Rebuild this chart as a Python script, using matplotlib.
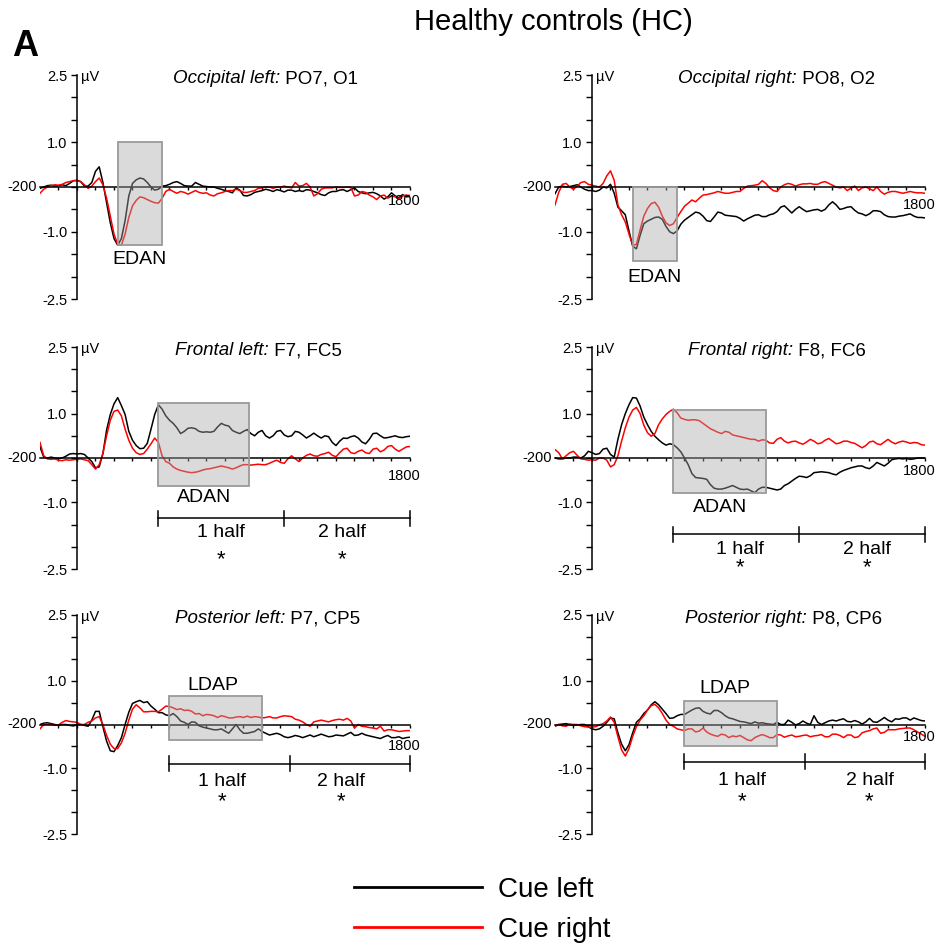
import numpy as np
import matplotlib
matplotlib.use("Agg")
import matplotlib.pyplot as plt
from matplotlib.patches import Rectangle

plt.rcParams["font.family"] = ["Liberation Sans", "DejaVu Sans"]
plt.rcParams["axes.unicode_minus"] = False

W, H = 937, 946

# sampling grid of the averaged ERPs (ms)
times = list(range(-200, 1801, 20))

region_names = ["Occipital left:", "Occipital right:", "Frontal left:",
                "Frontal right:", "Posterior left:", "Posterior right:"]
electrodes = ["PO7, O1", "PO8, O2", "F7, FC5", "F8, FC6", "P7, CP5", "P8, CP6"]
component_names = ["EDAN", "EDAN", "ADAN", "ADAN", "LDAP", "LDAP"]
window_ms = [(220, 460), (220, 460), (440, 930), (440, 940), (500, 1000), (500, 1000)]
window_uv = [(-1.3, 1.0), (-1.66, 0.0), (-0.62, 1.24), (-0.78, 1.08), (-0.36, 0.64), (-0.48, 0.54)]
half_bounds = [None, None, (440, 1120, 1800), (440, 1120, 1800), (500, 1150, 1800), (500, 1150, 1800)]
half_labels = ["1 half", "2 half"]
legend_labels = ["Cue left", "Cue right"]

# µV, one value per 20 ms from -200 to 1800
occ_left_cue_left = [
    -0.03, 0.0, 0.03, 0.04, 0.02, 0.03, 0.05, 0.03, 0.08, 0.14,
    0.15, 0.12, 0.02, 0.02, 0.1, 0.35, 0.45, 0.1, -0.35, -0.8,
    -1.15, -1.3, -1.15, -0.75, -0.2, 0.08, 0.16, 0.2, 0.18, 0.1,
    0.0, -0.07, -0.05, 0.02, 0.03, 0.06, 0.1, 0.12, 0.08, 0.03,
    0.02, 0.02, 0.1, 0.06, 0.02, 0.01, 0.0, 0.0, -0.03, -0.05,
    -0.08, -0.1, -0.13, -0.02, -0.07, -0.19, -0.2, -0.17, -0.12, -0.1,
    -0.08, -0.05, -0.07, -0.1, -0.06, -0.08, -0.11, -0.07, -0.07, -0.1,
    -0.08, -0.1, -0.06, -0.07, -0.1, -0.13, -0.17, -0.19, -0.13, -0.1,
    -0.1, -0.07, -0.06, -0.1, -0.06, -0.02, -0.1, -0.13, -0.15, -0.13,
    -0.12, -0.15, -0.2, -0.27, -0.22, -0.13, -0.2, -0.24, -0.17, -0.22,
    -0.21]
occ_left_cue_right = [
    -0.14, -0.05, 0.0, 0.03, 0.05, 0.04, 0.06, 0.1, 0.12, 0.14,
    0.14, 0.12, 0.05, -0.03, 0.02, 0.12, 0.2, 0.05, -0.25, -0.65,
    -1.05, -1.28, -1.3, -1.05, -0.68, -0.42, -0.3, -0.22, -0.24, -0.28,
    -0.32, -0.35, -0.36, -0.25, -0.1, -0.05, -0.1, -0.14, -0.1, -0.12,
    -0.16, -0.12, -0.08, -0.12, -0.14, -0.13, -0.18, -0.2, -0.15, -0.13,
    -0.1, -0.08, -0.08, -0.05, -0.08, -0.12, -0.12, -0.1, -0.08, -0.03,
    -0.02, 0.0, 0.0, -0.03, 0.0, 0.0, 0.02, 0.0, -0.02, 0.1,
    0.02, 0.03, 0.08, 0.0, -0.2, -0.15, -0.05, -0.02, -0.02, -0.02,
    0.0, -0.01, -0.01, 0.0, -0.01, -0.2, -0.18, -0.1, -0.12, -0.18,
    -0.22, -0.28, -0.2, -0.18, -0.25, -0.2, -0.22, -0.26, -0.2, -0.18,
    -0.19]
occ_right_cue_left = [
    -0.15, 0.0, 0.02, 0.0, 0.01, 0.03, 0.05, 0.0, -0.05, -0.08,
    -0.08, -0.1, -0.07, 0.0, -0.02, 0.06, -0.14, -0.45, -0.53, -0.62,
    -0.98, -1.32, -1.38, -1.08, -0.82, -0.76, -0.72, -0.68, -0.67, -0.72,
    -0.88, -1.0, -1.04, -0.98, -0.83, -0.74, -0.68, -0.62, -0.56, -0.58,
    -0.65, -0.75, -0.77, -0.67, -0.56, -0.58, -0.63, -0.64, -0.65, -0.66,
    -0.7, -0.76, -0.71, -0.67, -0.63, -0.62, -0.66, -0.66, -0.62, -0.6,
    -0.55, -0.45, -0.42, -0.5, -0.58, -0.5, -0.44, -0.5, -0.55, -0.53,
    -0.51, -0.5, -0.54, -0.5, -0.4, -0.33, -0.4, -0.5, -0.48, -0.45,
    -0.44, -0.52, -0.58, -0.6, -0.64, -0.6, -0.53, -0.53, -0.55, -0.62,
    -0.66, -0.67, -0.67, -0.65, -0.64, -0.62, -0.6, -0.65, -0.68, -0.68,
    -0.69]
occ_right_cue_right = [
    -0.4, -0.12, 0.06, 0.08, 0.0, -0.05, 0.02, 0.1, 0.12, 0.06,
    0.04, 0.02, 0.0, 0.08, 0.25, 0.36, 0.15, -0.4, -0.62, -0.78,
    -1.05, -1.3, -1.28, -0.96, -0.65, -0.48, -0.37, -0.34, -0.45, -0.65,
    -0.8, -0.86, -0.82, -0.68, -0.55, -0.43, -0.36, -0.29, -0.33, -0.25,
    -0.18, -0.17, -0.15, -0.13, -0.1, -0.12, -0.14, -0.14, -0.12, -0.1,
    -0.1, -0.03, 0.02, 0.03, 0.04, 0.06, 0.14, 0.08, -0.02, -0.08,
    -0.1, 0.0, 0.05, 0.08, 0.06, 0.02, 0.05, 0.07, 0.07, 0.08,
    0.06, 0.06, 0.1, 0.12, 0.08, 0.04, 0.0, -0.02, 0.0, -0.08,
    -0.02, 0.02, -0.08, -0.02, 0.0, -0.04, -0.08, 0.0, -0.1, -0.16,
    -0.12, -0.1, -0.1, -0.12, -0.14, -0.12, -0.1, -0.12, -0.13, -0.13,
    -0.14]
front_left_cue_left = [
    0.25, 0.02, 0.0, 0.02, 0.0, -0.01, 0.0, 0.04, 0.09, 0.1,
    0.09, 0.1, 0.08, 0.0, -0.08, -0.22, -0.2, 0.1, 0.63, 0.98,
    1.22, 1.36, 1.18, 0.98, 0.6, 0.4, 0.28, 0.21, 0.22, 0.33,
    0.65, 0.98, 1.2, 1.1, 0.95, 0.85, 0.78, 0.68, 0.55, 0.6,
    0.67, 0.68, 0.66, 0.6, 0.58, 0.59, 0.58, 0.6, 0.7, 0.78,
    0.74, 0.72, 0.62, 0.58, 0.55, 0.6, 0.64, 0.55, 0.5, 0.58,
    0.62, 0.5, 0.45, 0.5, 0.6, 0.62, 0.52, 0.48, 0.5, 0.6,
    0.58, 0.52, 0.45, 0.5, 0.56, 0.5, 0.45, 0.5, 0.48, 0.35,
    0.28, 0.38, 0.45, 0.44, 0.48, 0.5, 0.45, 0.36, 0.32, 0.42,
    0.55, 0.56, 0.5, 0.45, 0.46, 0.48, 0.5, 0.47, 0.46, 0.48,
    0.49]
front_left_cue_right = [
    0.35, 0.05, -0.02, -0.03, -0.02, -0.05, -0.06, -0.04, -0.05, -0.04,
    -0.03, -0.02, -0.04, -0.06, -0.15, -0.25, -0.15, 0.1, 0.5, 0.85,
    1.05, 1.08, 0.95, 0.65, 0.4, 0.22, 0.12, 0.08, 0.1, 0.2,
    0.32, 0.45, 0.35, 0.05, -0.08, -0.12, -0.2, -0.25, -0.28, -0.3,
    -0.32, -0.33, -0.32, -0.3, -0.27, -0.25, -0.24, -0.22, -0.2, -0.18,
    -0.2, -0.22, -0.25, -0.22, -0.18, -0.15, -0.15, -0.16, -0.15, -0.14,
    -0.15, -0.15, -0.12, -0.08, -0.05, -0.1, -0.12, -0.02, 0.05, -0.02,
    -0.08, 0.0, 0.06, 0.09, 0.05, 0.04, 0.08, 0.1, 0.13, 0.06,
    0.03, 0.12, 0.2, 0.22, 0.12, 0.1, 0.15, 0.18, 0.12, 0.1,
    0.2, 0.22, 0.14, 0.18, 0.26, 0.28, 0.2, 0.15, 0.2, 0.25,
    0.26]
front_right_cue_left = [
    0.0, -0.02, -0.02, 0.0, 0.0, 0.02, 0.02, 0.0, 0.05, 0.15,
    0.12, 0.08, 0.1, 0.2, 0.22, 0.08, 0.02, 0.42, 0.75, 1.0,
    1.2, 1.36, 1.35, 1.17, 0.92, 0.75, 0.6, 0.49, 0.41, 0.34,
    0.29, 0.32, 0.3, 0.23, 0.14, 0.0, -0.15, -0.35, -0.44, -0.45,
    -0.46, -0.48, -0.6, -0.68, -0.7, -0.7, -0.68, -0.65, -0.62, -0.66,
    -0.7, -0.71, -0.7, -0.74, -0.78, -0.7, -0.66, -0.66, -0.68, -0.7,
    -0.72, -0.7, -0.62, -0.58, -0.52, -0.46, -0.41, -0.42, -0.44, -0.4,
    -0.33, -0.32, -0.31, -0.32, -0.33, -0.36, -0.38, -0.32, -0.28, -0.25,
    -0.22, -0.2, -0.18, -0.18, -0.22, -0.24, -0.18, -0.1, -0.14, -0.18,
    -0.12, -0.04, -0.02, -0.01, -0.02, -0.01, -0.03, -0.02, 0.0, 0.0,
    0.0]
front_right_cue_right = [
    0.19, 0.12, -0.02, 0.05, 0.12, 0.15, 0.06, -0.02, -0.03, -0.05,
    -0.04, -0.05, 0.0, 0.0, -0.05, -0.2, -0.15, 0.05, 0.38, 0.68,
    0.92, 1.08, 1.14, 1.0, 0.74, 0.57, 0.49, 0.55, 0.75, 0.88,
    0.98, 1.05, 1.1, 1.02, 0.9, 0.87, 0.85, 0.86, 0.86, 0.84,
    0.78, 0.72, 0.66, 0.62, 0.58, 0.55, 0.6, 0.58, 0.52, 0.5,
    0.48, 0.46, 0.44, 0.42, 0.42, 0.38, 0.41, 0.4, 0.34, 0.33,
    0.42, 0.46, 0.38, 0.34, 0.37, 0.38, 0.34, 0.31, 0.36, 0.42,
    0.38, 0.32, 0.34, 0.4, 0.44, 0.38, 0.32, 0.34, 0.38, 0.38,
    0.35, 0.33, 0.28, 0.23, 0.28, 0.36, 0.38, 0.32, 0.3, 0.36,
    0.42, 0.36, 0.32, 0.36, 0.38, 0.36, 0.33, 0.35, 0.34, 0.3,
    0.29]
post_left_cue_left = [
    0.0, 0.03, 0.04, 0.02, 0.0, -0.02, 0.0, 0.0, -0.02, -0.03,
    0.0, 0.0, -0.02, -0.04, 0.1, 0.3, 0.3, -0.05, -0.38, -0.6,
    -0.62, -0.48, -0.3, 0.0, 0.28, 0.48, 0.52, 0.55, 0.5, 0.52,
    0.42, 0.35, 0.27, 0.27, 0.22, 0.2, 0.25, 0.18, 0.08, 0.05,
    0.0, 0.06, 0.05, -0.03, -0.06, -0.08, -0.1, -0.12, -0.12, -0.1,
    -0.15, -0.2, -0.1, 0.0, -0.12, -0.2, -0.2, -0.18, -0.16, -0.1,
    -0.16, -0.2, -0.24, -0.22, -0.2, -0.23, -0.28, -0.3, -0.28, -0.25,
    -0.27, -0.3, -0.27, -0.24, -0.28, -0.25, -0.22, -0.25, -0.28, -0.27,
    -0.24, -0.25, -0.26, -0.22, -0.18, -0.25, -0.24, -0.2, -0.24, -0.26,
    -0.28, -0.3, -0.32, -0.28, -0.25, -0.3, -0.3, -0.28, -0.32, -0.3,
    -0.29]
post_left_cue_right = [
    -0.1, 0.0, 0.01, 0.0, -0.02, -0.01, 0.05, 0.09, 0.07, 0.06,
    0.05, 0.0, 0.0, 0.05, 0.08, 0.15, 0.18, 0.0, -0.25, -0.45,
    -0.55, -0.55, -0.42, -0.2, 0.1, 0.35, 0.45, 0.38, 0.29, 0.29,
    0.3, 0.3, 0.29, 0.35, 0.42, 0.41, 0.38, 0.34, 0.36, 0.32,
    0.33, 0.3, 0.24, 0.25, 0.2, 0.23, 0.22, 0.2, 0.16, 0.2,
    0.18, 0.15, 0.15, 0.17, 0.18, 0.16, 0.19, 0.16, 0.18, 0.17,
    0.15, 0.16, 0.18, 0.15, 0.15, 0.18, 0.2, 0.19, 0.18, 0.12,
    0.1, 0.06, 0.0, -0.04, 0.06, 0.08, 0.1, 0.08, 0.06, 0.09,
    0.11, 0.12, 0.1, 0.14, 0.08, -0.08, 0.0, -0.04, -0.05, -0.07,
    -0.08, -0.1, -0.04, -0.15, -0.12, -0.12, -0.14, -0.16, -0.15, -0.14,
    -0.14]
post_right_cue_left = [
    -0.04, 0.0, 0.01, 0.02, 0.0, -0.02, -0.01, 0.0, 0.0, -0.05,
    -0.1, -0.12, -0.1, -0.04, 0.05, 0.15, 0.13, -0.19, -0.45, -0.6,
    -0.46, -0.19, 0.05, 0.13, 0.25, 0.33, 0.45, 0.52, 0.45, 0.35,
    0.25, 0.14, 0.15, 0.2, 0.23, 0.23, 0.28, 0.33, 0.37, 0.38,
    0.3, 0.26, 0.24, 0.32, 0.32, 0.27, 0.2, 0.15, 0.13, 0.1,
    0.07, 0.06, 0.04, 0.02, 0.06, 0.03, 0.04, 0.02, 0.01, 0.0,
    0.05, 0.0, 0.0, 0.1, 0.05, -0.01, 0.02, 0.08, 0.03, 0.0,
    0.2, 0.05, 0.0, 0.04, 0.08, 0.1, 0.08, 0.11, 0.13, 0.07,
    0.06, 0.09, 0.06, 0.01, 0.06, 0.14, 0.06, 0.05, 0.1, 0.16,
    0.1, 0.06, 0.13, 0.12, 0.15, 0.15, 0.1, 0.15, 0.12, 0.09,
    0.08]
post_right_cue_right = [
    -0.04, 0.0, -0.03, -0.04, 0.01, 0.0, 0.0, -0.03, -0.05, -0.06,
    -0.06, -0.05, -0.01, 0.02, 0.08, 0.17, 0.05, -0.28, -0.58, -0.72,
    -0.55, -0.27, -0.05, 0.1, 0.2, 0.33, 0.43, 0.46, 0.38, 0.25,
    0.1, 0.0, -0.04, -0.1, -0.12, -0.14, -0.1, -0.1, -0.17, -0.15,
    -0.08, -0.17, -0.22, -0.25, -0.27, -0.22, -0.24, -0.3, -0.26, -0.28,
    -0.25, -0.3, -0.35, -0.37, -0.3, -0.26, -0.23, -0.26, -0.3, -0.3,
    -0.23, -0.24, -0.29, -0.26, -0.24, -0.28, -0.27, -0.25, -0.24, -0.28,
    -0.26, -0.25, -0.23, -0.28, -0.28, -0.22, -0.22, -0.25, -0.3, -0.24,
    -0.24, -0.3, -0.28, -0.19, -0.16, -0.14, -0.1, -0.08, -0.2, -0.18,
    -0.12, -0.12, -0.12, -0.1, -0.09, -0.08, -0.08, -0.12, -0.17, -0.22,
    -0.27]

cue_left_series = [occ_left_cue_left, occ_right_cue_left, front_left_cue_left,
                   front_right_cue_left, post_left_cue_left, post_right_cue_left]
cue_right_series = [occ_left_cue_right, occ_right_cue_right, front_left_cue_right,
                    front_right_cue_right, post_left_cue_right, post_right_cue_right]

# layout: axes frames in pixels (left, right, top, bottom) and text placement in data units
frames = [(40, 410, 75, 299), (555, 925, 75, 299),
          (40, 410, 347, 569), (555, 925, 347, 569),
          (40, 410, 615, 834), (555, 925, 615, 834)]
title_x = [519, 465, 530, 519, 530, 503]
comp_label_xy = [(340, -1.61), (340, -2.02), (686, -0.89), (692, -1.11), (735, 0.88), (719, 0.83)]
label_1800_y = [-0.32, -0.41, -0.40, -0.30, -0.48, -0.29]
bracket_y = [None, None, -1.36, -1.72, -0.90, -0.85]
half_text_y = [None, None, -1.68, -2.06, -1.31, -1.28]
star_y = [None, None, -2.28, -2.47, -1.77, -1.77]
half_text_x = [None, None, (780, 1430), (800, 1485), (782, 1425), (809, 1500)]

fig = plt.figure(figsize=(W / 100, H / 100), dpi=100)

fig.text(553 / W, 1 - 22 / H, "Healthy controls (HC)",
         family=["Liberation Sans Narrow", "Liberation Sans"], fontsize=21,
         ha="center", va="center")
fig.text(12 / W, 1 - 47 / H, "A", family=["Liberation Sans Narrow", "Liberation Sans"],
         fontsize=26, weight="bold", ha="left", va="center")

lines = []
for i in range(6):
    x0, x1, yt, yb = frames[i]
    ax = fig.add_axes([x0 / W, 1 - yb / H, (x1 - x0) / W, (yb - yt) / H])
    ax.patch.set_visible(False)
    ax.set_xlim(-200, 1800)
    ax.set_ylim(-2.5, 2.5)
    for side in ("top", "right"):
        ax.spines[side].set_visible(False)
    ax.spines["left"].set_position(("data", 0))
    ax.spines["bottom"].set_position(("data", 0))
    for side in ("left", "bottom"):
        ax.spines[side].set_linewidth(1.1)

    yt_vals = np.arange(-2.5, 2.51, 0.5)
    ax.set_yticks(yt_vals)
    ax.set_yticklabels([f"{v:.1f}" if abs(v) in (1.0, 2.5) else "" for v in yt_vals])
    ax.set_xticks(range(-100, 1801, 100))
    ax.set_xticklabels([])
    ax.tick_params(axis="y", direction="out", length=4, width=1, labelsize=10.5, pad=3)
    ax.tick_params(axis="x", direction="out", length=2.5, width=1)

    l1, = ax.plot(times, cue_left_series[i], color="black", lw=1.1, zorder=2)
    l2, = ax.plot(times, cue_right_series[i], color="red", lw=1.1, zorder=2)
    if i == 0:
        lines = [l1, l2]

    # grey component window
    (w0, w1), (v0, v1) = window_ms[i], window_uv[i]
    ax.add_patch(Rectangle((w0, v0), w1 - w0, v1 - v0, facecolor="#a8a8a8",
                           edgecolor="none", alpha=0.42, zorder=3))
    ax.add_patch(Rectangle((w0, v0), w1 - w0, v1 - v0, fill=False,
                           edgecolor="#9a9a9a", lw=1.3, zorder=3))
    ax.text(*comp_label_xy[i], component_names[i], fontsize=14, ha="center", va="center")

    # panel title: italic region + electrodes
    t1 = ax.text(title_x[i], 2.42, region_names[i], style="italic", fontsize=13.5,
                 ha="left", va="center")
    ax.annotate(" " + electrodes[i], xy=(1, 0), xycoords=t1, ha="left", va="bottom",
                fontsize=13.5)

    ax.text(20, 2.45, "µV", fontsize=10.5, ha="left", va="center")
    ax.text(-218, 0, "-200", fontsize=10.5, ha="right", va="center")
    ax.text(1768, label_1800_y[i], "1800", fontsize=10.5, ha="center", va="center")

    if half_bounds[i] is not None:
        b = half_bounds[i]
        y = bracket_y[i]
        ax.plot([b[0], b[2]], [y, y], color="black", lw=1.1, clip_on=False)
        for bx in b:
            ax.plot([bx, bx], [y - 0.17, y + 0.17], color="black", lw=1.1, clip_on=False)
        for hx, lab in zip(half_text_x[i], half_labels):
            ax.text(hx, half_text_y[i], lab, fontsize=14, ha="center", va="center")
            ax.text(hx, star_y[i], "*", fontsize=16, ha="center", va="center")

fig.legend(lines, legend_labels, loc="center left", bbox_to_anchor=(354 / W, 1 - 910 / H),
           frameon=False, fontsize=20, handlelength=4.6, handletextpad=0.6,
           labelspacing=0.5, borderpad=0, borderaxespad=0)
for lh in fig.legends[0].get_lines():
    lh.set_linewidth(2)

fig.savefig("out.png", dpi=100)
